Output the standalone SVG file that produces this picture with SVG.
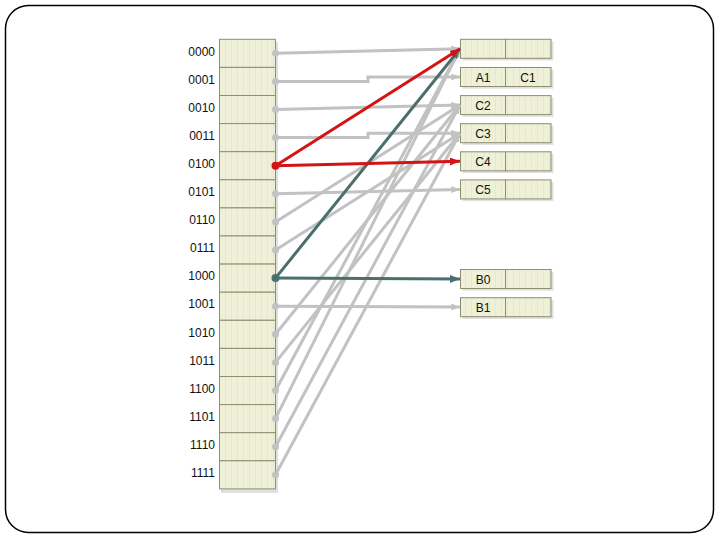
<svg xmlns="http://www.w3.org/2000/svg" width="720" height="540" viewBox="0 0 720 540">
<style>
.cell{fill:url(#stripes);stroke:#8E8E70;stroke-width:1}
.lbl{font-family:"Liberation Sans",Arial,sans-serif;font-size:12px;fill:#111}
.dl{text-anchor:end}
.bl{text-anchor:middle}
.g{stroke:#C2C2C2;stroke-width:3;fill:none}
.r{stroke:#D41414;stroke-width:3;fill:none}
.t{stroke:#4B6F6D;stroke-width:3;fill:none}
.dg{fill:#C2C2C2}
.dr{fill:#D41414}
.dt{fill:#4B6F6D}
.shadow{fill:#000;opacity:0.12}
</style>
<defs>
<pattern id="stripes" x="0" y="0" width="6" height="10" patternUnits="userSpaceOnUse">
<rect width="6" height="10" fill="#EEF0D8"/>
<rect x="3" width="1" height="10" fill="#E6E8CD"/>
</pattern>
<marker id="ag" viewBox="0 0 10 8" markerWidth="9" markerHeight="7" refX="10" refY="4" orient="auto" markerUnits="userSpaceOnUse"><path d="M0,0 L10,4 L0,8 z" fill="#C2C2C2"/></marker>
<marker id="ar" viewBox="0 0 10 8" markerWidth="10" markerHeight="8" refX="10" refY="4" orient="auto" markerUnits="userSpaceOnUse"><path d="M0,0 L10,4 L0,8 z" fill="#D41414"/></marker>
<marker id="at" viewBox="0 0 10 8" markerWidth="10" markerHeight="8" refX="10" refY="4" orient="auto" markerUnits="userSpaceOnUse"><path d="M0,0 L10,4 L0,8 z" fill="#4B6F6D"/></marker>
</defs>
<rect x="5.5" y="5.5" width="708" height="527" rx="23" ry="23" fill="#fff" stroke="#000" stroke-width="1.5"/>

<rect class="shadow" x="221" y="42" width="57" height="451"/>
<g id="directory">
<g id="d0000"><rect class="cell" x="219.5" y="39.3" width="56" height="28.1"/><text class="lbl dl" x="215" y="55.5">0000</text></g>
<g id="d0001"><rect class="cell" x="219.5" y="67.4" width="56" height="28.1"/><text class="lbl dl" x="215" y="83.6">0001</text></g>
<g id="d0010"><rect class="cell" x="219.5" y="95.5" width="56" height="28.1"/><text class="lbl dl" x="215" y="111.7">0010</text></g>
<g id="d0011"><rect class="cell" x="219.5" y="123.6" width="56" height="28.1"/><text class="lbl dl" x="215" y="139.8">0011</text></g>
<g id="d0100"><rect class="cell" x="219.5" y="151.7" width="56" height="28.1"/><text class="lbl dl" x="215" y="167.9">0100</text></g>
<g id="d0101"><rect class="cell" x="219.5" y="179.8" width="56" height="28.1"/><text class="lbl dl" x="215" y="196">0101</text></g>
<g id="d0110"><rect class="cell" x="219.5" y="207.9" width="56" height="28.1"/><text class="lbl dl" x="215" y="224.1">0110</text></g>
<g id="d0111"><rect class="cell" x="219.5" y="236" width="56" height="28.1"/><text class="lbl dl" x="215" y="252.2">0111</text></g>
<g id="d1000"><rect class="cell" x="219.5" y="264.1" width="56" height="28.1"/><text class="lbl dl" x="215" y="280.3">1000</text></g>
<g id="d1001"><rect class="cell" x="219.5" y="292.2" width="56" height="28.1"/><text class="lbl dl" x="215" y="308.4">1001</text></g>
<g id="d1010"><rect class="cell" x="219.5" y="320.3" width="56" height="28.1"/><text class="lbl dl" x="215" y="336.5">1010</text></g>
<g id="d1011"><rect class="cell" x="219.5" y="348.4" width="56" height="28.1"/><text class="lbl dl" x="215" y="364.6">1011</text></g>
<g id="d1100"><rect class="cell" x="219.5" y="376.5" width="56" height="28.1"/><text class="lbl dl" x="215" y="392.7">1100</text></g>
<g id="d1101"><rect class="cell" x="219.5" y="404.6" width="56" height="28.1"/><text class="lbl dl" x="215" y="420.8">1101</text></g>
<g id="d1110"><rect class="cell" x="219.5" y="432.7" width="56" height="28.1"/><text class="lbl dl" x="215" y="448.9">1110</text></g>
<g id="d1111"><rect class="cell" x="219.5" y="460.8" width="56" height="28.1"/><text class="lbl dl" x="215" y="477">1111</text></g>
</g>

<g id="buckets">
<g id="b0"><rect class="shadow" x="462.5" y="41.5" width="91" height="19"/><rect class="cell" x="460.5" y="39.3" width="45" height="19"/><rect class="cell" x="505.5" y="39.3" width="45.5" height="19"/></g>
<g id="bA1"><rect class="shadow" x="462.5" y="69.7" width="91" height="19"/><rect class="cell" x="460.5" y="67.5" width="45" height="19"/><rect class="cell" x="505.5" y="67.5" width="45.5" height="19"/><text class="lbl bl" x="483" y="81.5">A1</text><text class="lbl bl" x="528" y="81.5">C1</text></g>
<g id="bC2"><rect class="shadow" x="462.5" y="97.8" width="91" height="19"/><rect class="cell" x="460.5" y="95.6" width="45" height="19"/><rect class="cell" x="505.5" y="95.6" width="45.5" height="19"/><text class="lbl bl" x="483" y="109.6">C2</text></g>
<g id="bC3"><rect class="shadow" x="462.5" y="125.9" width="91" height="19"/><rect class="cell" x="460.5" y="123.7" width="45" height="19"/><rect class="cell" x="505.5" y="123.7" width="45.5" height="19"/><text class="lbl bl" x="483" y="137.7">C3</text></g>
<g id="bC4"><rect class="shadow" x="462.5" y="154" width="91" height="19"/><rect class="cell" x="460.5" y="151.8" width="45" height="19"/><rect class="cell" x="505.5" y="151.8" width="45.5" height="19"/><text class="lbl bl" x="483" y="165.8">C4</text></g>
<g id="bC5"><rect class="shadow" x="462.5" y="182.1" width="91" height="19"/><rect class="cell" x="460.5" y="179.9" width="45" height="19"/><rect class="cell" x="505.5" y="179.9" width="45.5" height="19"/><text class="lbl bl" x="483" y="193.9">C5</text></g>
<g id="bB0"><rect class="shadow" x="462.5" y="271.7" width="91" height="19"/><rect class="cell" x="460.5" y="269.5" width="45" height="19"/><rect class="cell" x="505.5" y="269.5" width="45.5" height="19"/><text class="lbl bl" x="483" y="283.5">B0</text></g>
<g id="bB1"><rect class="shadow" x="462.5" y="299.9" width="91" height="19"/><rect class="cell" x="460.5" y="297.7" width="45" height="19"/><rect class="cell" x="505.5" y="297.7" width="45.5" height="19"/><text class="lbl bl" x="483" y="311.7">B1</text></g>
</g>

<g id="connectors">
<path class="g" marker-end="url(#ag)" d="M275.5,53.3 L460,48.8"/>
<path class="g" marker-end="url(#ag)" d="M275.5,81.4 L368,81.4 L368,77 L460,77"/>
<path class="g" marker-end="url(#ag)" d="M275.5,109.5 L460,105"/>
<path class="g" marker-end="url(#ag)" d="M275.5,137.6 L368,137.6 L368,133.2 L460,133.2"/>
<path class="g" marker-end="url(#ag)" d="M275.5,193.8 L460,189.4"/>
<path class="g" marker-end="url(#ag)" d="M275.5,221.9 L460,105"/>
<path class="g" marker-end="url(#ag)" d="M275.5,250 L460,133.2"/>
<path class="g" marker-end="url(#ag)" d="M275.5,306.2 L460,307"/>
<path class="g" marker-end="url(#ag)" d="M275.5,334.3 L460,105"/>
<path class="g" marker-end="url(#ag)" d="M275.5,362.4 L460,133.2"/>
<path class="g" marker-end="url(#ag)" d="M275.5,390.5 L460,48.8"/>
<path class="g" marker-end="url(#ag)" d="M275.5,418.6 L460,48.8"/>
<path class="g" marker-end="url(#ag)" d="M275.5,446.7 L460,105"/>
<path class="g" marker-end="url(#ag)" d="M275.5,474.8 L460,133.2"/>
<path class="t" marker-end="url(#at)" d="M275.5,278.1 L460,48.8"/>
<path class="t" marker-end="url(#at)" d="M275.5,278.1 L460,279"/>
<path class="r" marker-end="url(#ar)" d="M275.5,165.7 L460,48.8"/>
<path class="r" marker-end="url(#ar)" d="M275.5,165.7 L460,161.3"/>
</g>

<g id="dots">
<circle class="dg" cx="275.5" cy="53.3" r="3.5"/>
<circle class="dg" cx="275.5" cy="81.4" r="3.5"/>
<circle class="dg" cx="275.5" cy="109.5" r="3.5"/>
<circle class="dg" cx="275.5" cy="137.6" r="3.5"/>
<circle class="dr" cx="275.5" cy="165.7" r="4"/>
<circle class="dg" cx="275.5" cy="193.8" r="3.5"/>
<circle class="dg" cx="275.5" cy="221.9" r="3.5"/>
<circle class="dg" cx="275.5" cy="250" r="3.5"/>
<circle class="dt" cx="275.5" cy="278.1" r="4"/>
<circle class="dg" cx="275.5" cy="306.2" r="3.5"/>
<circle class="dg" cx="275.5" cy="334.3" r="3.5"/>
<circle class="dg" cx="275.5" cy="362.4" r="3.5"/>
<circle class="dg" cx="275.5" cy="390.5" r="3.5"/>
<circle class="dg" cx="275.5" cy="418.6" r="3.5"/>
<circle class="dg" cx="275.5" cy="446.7" r="3.5"/>
<circle class="dg" cx="275.5" cy="474.8" r="3.5"/>
</g>
</svg>
